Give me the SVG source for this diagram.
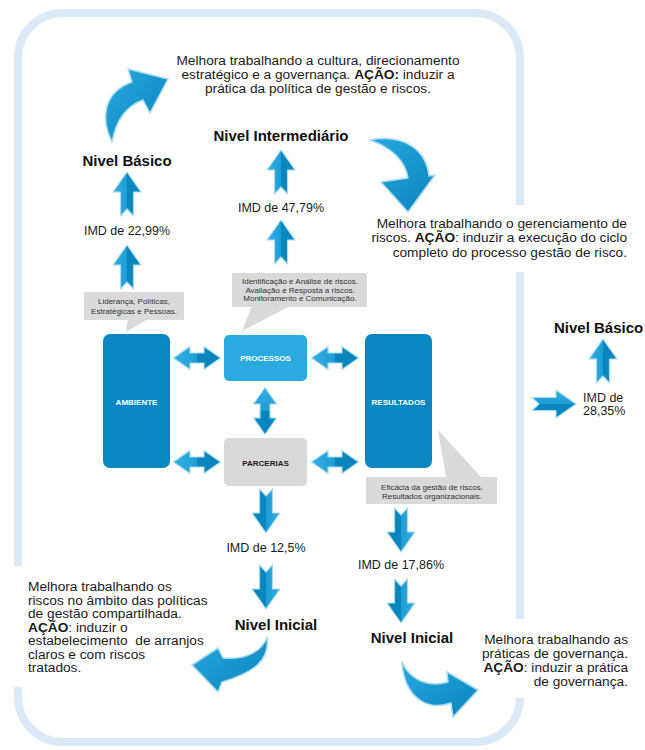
<svg xmlns="http://www.w3.org/2000/svg" width="645" height="750" viewBox="0 0 645 750">
<style>
.t{font-family:"Liberation Sans",Arial,sans-serif;font-size:13.7px;fill:#1a1a1a}
.b{font-family:"Liberation Sans",Arial,sans-serif;font-size:15px;font-weight:bold;fill:#111}
.imd{font-family:"Liberation Sans",Arial,sans-serif;font-size:12.5px;fill:#1a1a1a}
.s{font-family:"Liberation Sans",Arial,sans-serif;font-size:8px;fill:#333;text-anchor:middle}
.lbl{font-family:"Liberation Sans",Arial,sans-serif;font-size:8px;font-weight:bold;fill:#fff;text-anchor:middle}
.ar{fill:url(#ag);stroke:#a9dcf3;stroke-width:1.2;stroke-linejoin:round}
.cv{fill:url(#cg);stroke:#a9dcf3;stroke-width:1.5;stroke-linejoin:round}
.call{fill:#dadada}
.blue{fill:#0a87c0}
</style>
<defs>
<linearGradient id="ag" x1="0" y1="0" x2="1" y2="0">
<stop offset="0" stop-color="#33aee2"/>
<stop offset="0.5" stop-color="#1d9dd6"/>
<stop offset="0.5" stop-color="#0a86bf"/>
<stop offset="1" stop-color="#0a86bf"/>
</linearGradient>
<linearGradient id="cg" x1="0" y1="0" x2="1" y2="1">
<stop offset="0" stop-color="#2aa8df"/>
<stop offset="1" stop-color="#0a84bd"/>
</linearGradient>
<path id="up" d="M0,0 L14,20 L6.5,20 L6.5,44 L0,37 L-6.5,44 L-6.5,20 L-14,20 Z"/>
<path id="dbl" d="M-23.5,0 L-7,-11.5 L-7,-5 L7,-5 L7,-11.5 L23.5,0 L7,11.5 L7,5 L-7,5 L-7,11.5 Z"/>
</defs>
<rect width="645" height="750" fill="#fff"/>
<g id="frame">
<rect x="18" y="13" width="502" height="729" rx="45" fill="none" stroke="#d9e9f5" stroke-width="8"/>
<rect x="8" y="566" width="20" height="121" fill="#fff"/>
<rect x="510" y="205" width="20" height="67" fill="#fff"/>
<rect x="510" y="619" width="20" height="79" fill="#fff"/>
</g>
<g id="connectors">
<path class="cv" d="M112,142 C100,118 104,92 132,82 L128,69 L168,79 L150,113 L143,100 C126,106 116,120 112,142 Z"/>
<path class="cv" d="M370,140 C402,134 426,148 429,176 L435,175 L408,212 L381,182 L408,178 C405,160 392,148 370,140 Z"/>
<path class="cv" d="M267,637 C270,660 255,672 222,682 L218,692 L192,665 L218,648 L223,658 C245,660 262,652 267,637 Z"/>
<path class="cv" d="M402,662 C404,695 425,712 451,703 L453,717 L478,690 L447,672 L448,682 C428,688 410,680 402,662 Z"/>
<use href="#up" class="ar" transform="translate(127,172)"/>
<use href="#up" class="ar" transform="translate(127,245)"/>
<use href="#up" class="ar" transform="translate(281,150)"/>
<use href="#up" class="ar" transform="translate(281,220)"/>
<use href="#up" class="ar" transform="translate(603,339)"/>
<use href="#up" class="ar" transform="translate(576,404) rotate(90)"/>
<use href="#up" class="ar" transform="translate(266,533) rotate(180)"/>
<use href="#up" class="ar" transform="translate(266,609) rotate(180)"/>
<use href="#up" class="ar" transform="translate(401,552) rotate(180)"/>
<use href="#up" class="ar" transform="translate(401,623) rotate(180)"/>
<use href="#dbl" class="ar" transform="translate(197,358)"/>
<use href="#dbl" class="ar" transform="translate(335,358)"/>
<use href="#dbl" class="ar" transform="translate(197,462)"/>
<use href="#dbl" class="ar" transform="translate(335,462)"/>
<use href="#dbl" class="ar" transform="translate(265,411) rotate(90)"/>
</g>
<g id="ambiente">
<rect class="blue" x="103" y="334" width="67" height="134" rx="7"/>
<text class="lbl" x="136.5" y="405">AMBIENTE</text>
</g>
<g id="processos">
<rect x="224" y="335" width="83" height="46" rx="5" fill="#29abe2"/>
<text class="lbl" x="265.5" y="361">PROCESSOS</text>
</g>
<g id="resultados">
<rect class="blue" x="365" y="334" width="67" height="134" rx="7"/>
<text class="lbl" x="398.5" y="405">RESULTADOS</text>
</g>
<g id="parcerias">
<rect x="224" y="438" width="83" height="48" rx="5" fill="#d9d9d9"/>
<text class="lbl" x="265.5" y="466" style="fill:#1a1a1a">PARCERIAS</text>
</g>
<g id="callout-ambiente">
<rect class="call" x="84" y="292" width="100" height="28"/>
<polygon class="call" points="128,319 148,319 126,332"/>
<text class="s" x="134" y="304">Liderança, Políticas,</text>
<text class="s" x="134" y="314">Estratégicas e Pessoas.</text>
</g>
<g id="callout-processos">
<rect class="call" x="232" y="273" width="135" height="34"/>
<polygon class="call" points="252,306 290,306 242,331"/>
<text class="s" x="300" y="284">Identificação e Análise de riscos.</text>
<text class="s" x="300" y="292.5">Avaliação e Resposta a riscos.</text>
<text class="s" x="300" y="301">Monitoramento e Comunicação.</text>
</g>
<g id="callout-resultados">
<rect class="call" x="366" y="477" width="131" height="27"/>
<polygon class="call" points="438,430 446,478 482,478"/>
<text class="s" x="432" y="490">Eficácia da gestão de riscos.</text>
<text class="s" x="432" y="498.5">Resultados organizacionais.</text>
</g>
<g id="texto-topo">
<text class="t" x="318" y="65" text-anchor="middle">Melhora trabalhando a cultura, direcionamento</text>
<text class="t" x="318" y="79" text-anchor="middle">estratégico e a governança. <tspan font-weight="bold">AÇÃO:</tspan> induzir a</text>
<text class="t" x="318" y="93" text-anchor="middle">prática da política de gestão e riscos.</text>
</g>
<g id="nivel-basico-1">
<text class="b" x="127" y="166" text-anchor="middle">Nivel Básico</text>
<text class="imd" x="127" y="235" text-anchor="middle">IMD de 22,99%</text>
</g>
<g id="nivel-intermediario">
<text class="b" x="281" y="141" text-anchor="middle">Nivel Intermediário</text>
<text class="imd" x="281" y="212" text-anchor="middle">IMD de 47,79%</text>
</g>
<g id="texto-direita">
<text class="t" x="627" y="228" text-anchor="end">Melhora trabalhando o gerenciamento de</text>
<text class="t" x="627" y="242" text-anchor="end">riscos. <tspan font-weight="bold">AÇÃO</tspan>: induzir a execução do ciclo</text>
<text class="t" x="627" y="257" text-anchor="end">completo do processo gestão de risco.</text>
</g>
<g id="nivel-basico-2">
<text class="b" x="554" y="333">Nivel Básico</text>
<text class="imd" x="583" y="402">IMD de</text>
<text class="imd" x="583" y="415">28,35%</text>
</g>
<g id="nivel-inicial-1">
<text class="imd" x="266" y="552" text-anchor="middle">IMD de 12,5%</text>
<text class="b" x="276" y="630" text-anchor="middle">Nivel Inicial</text>
</g>
<g id="nivel-inicial-2">
<text class="imd" x="401" y="569" text-anchor="middle">IMD de 17,86%</text>
<text class="b" x="412" y="643" text-anchor="middle">Nivel Inicial</text>
</g>
<g id="texto-esquerda">
<text class="t" x="28" y="591">Melhora trabalhando os</text>
<text class="t" x="28" y="604.5">riscos no âmbito das políticas</text>
<text class="t" x="28" y="618">de gestão compartilhada.</text>
<text class="t" x="28" y="631.5"><tspan font-weight="bold">AÇÃO</tspan>: induzir o</text>
<text class="t" x="28" y="645" xml:space="preserve">estabelecimento  de arranjos</text>
<text class="t" x="28" y="658.5">claros e com riscos</text>
<text class="t" x="28" y="672">tratados.</text>
</g>
<g id="texto-baixo-direita">
<text class="t" x="628" y="644" text-anchor="end">Melhora trabalhando as</text>
<text class="t" x="628" y="658" text-anchor="end">práticas de governança.</text>
<text class="t" x="628" y="672" text-anchor="end"><tspan font-weight="bold">AÇÃO</tspan>: induzir a prática</text>
<text class="t" x="628" y="686" text-anchor="end">de governança.</text>
</g>
</svg>
